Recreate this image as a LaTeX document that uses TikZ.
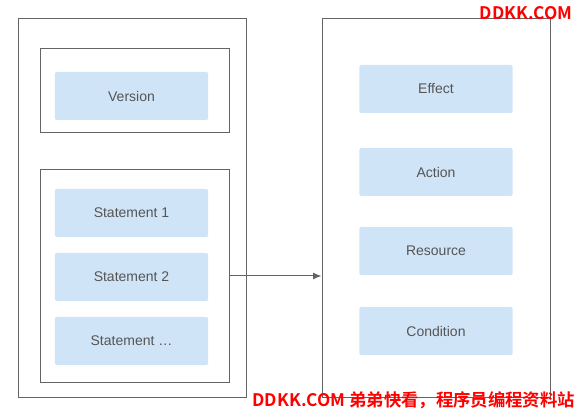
\documentclass[tikz,border=0pt]{standalone}
\usepackage{fontspec}
\setmainfont{Liberation Sans}
\newfontfamily\cjk{Noto Sans CJK SC}[BoldFont={Noto Sans CJK SC Bold}]
\usepackage{tikz}
\usetikzlibrary{arrows.meta,positioning,calc}
\definecolor{blockfill}{RGB}{208,228,248}
\definecolor{blocktext}{RGB}{85,85,85}
\definecolor{frameline}{RGB}{100,100,100}
\definecolor{markred}{RGB}{255,0,0}

\begin{document}
\begin{tikzpicture}[
x=0.75pt,
y=-0.75pt,
every node/.style={font=\fontsize{10.5}{12}\selectfont},
frame/.style={rectangle,draw=frameline,line width=0.75pt,inner sep=0pt},
block/.style={rectangle,rounded corners=1.5pt,fill=blockfill,text=blocktext,inner sep=0pt,minimum width=115pt,minimum height=36pt},
arr/.style={-{Latex[length=2.2mm,width=1.8mm]},draw=frameline,line width=0.75pt},
stamp/.style={text=markred,inner sep=0pt,font=\cjk\bfseries\fontsize{13}{15}\selectfont}
]
\useasboundingbox (0,0) rectangle (576,410);
\node[frame,minimum width=171pt,minimum height=283.5pt] (policy) at (132,208) {};
\node[frame,minimum width=141.75pt,minimum height=63pt] (verbox) at (134.5,91) {};
\node[block] (version) at (131.5,96) {Version};
\node[frame,minimum width=141.75pt,minimum height=159pt] (stmtbox) at (134.5,276) {};
\node[block] (stmt1) at (131.5,213) {Statement 1};
\node[block] (stmt2) at (131.5,277) {Statement 2};
\node[block] (stmtn) at (131.5,341) {Statement \dots};
\node[frame,minimum width=171pt,minimum height=283.5pt] (statement) at (436,208) {};
\node[block] (effect) at (436,89) {Effect};
\node[block] (action) at (436,172) {Action};
\node[block] (resource) at (436,251) {Resource};
\node[block] (condition) at (436,331) {Condition};

\draw[arr] (stmtbox.east) -- (stmtbox.east -| statement.west);

\node[stamp,anchor=east] (stamptop) at (573,13) {DDKK.COM};
\node[stamp,anchor=east] (stampbottom) at (575,400) {DDKK.COM 弟弟快看，程序员编程资料站};
\end{tikzpicture}
\end{document}
